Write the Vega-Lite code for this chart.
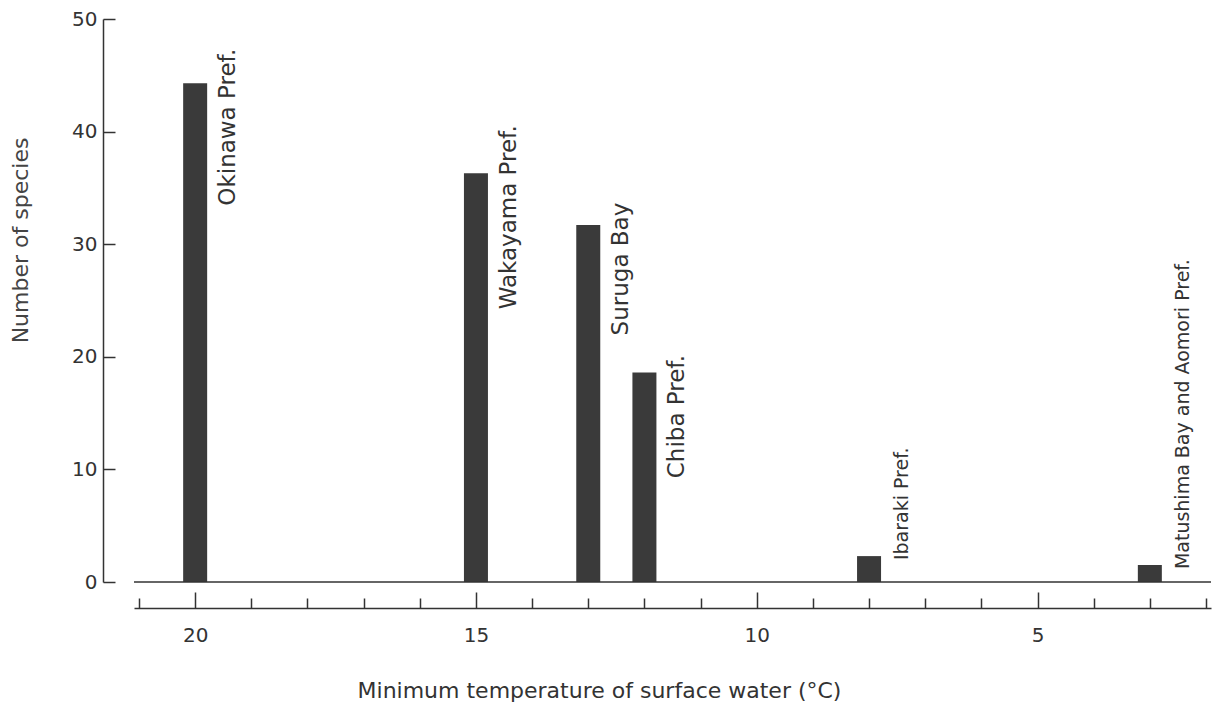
{
  "$schema": "https://vega.github.io/schema/vega-lite/v6.json",
  "width": 1077,
  "height": 563,
  "autosize": {"type": "none"},
  "padding": {"left": 134, "top": 19, "right": 3, "bottom": 131},
  "background": "white",
  "config": {"view": {"stroke": null}, "font": "DejaVu Sans"},
  "data": {
    "values": [
      {"site": "Okinawa Pref.", "temp": 20, "species": 44.3},
      {"site": "Wakayama Pref.", "temp": 15, "species": 36.3},
      {"site": "Suruga Bay", "temp": 13, "species": 31.7},
      {"site": "Chiba Pref.", "temp": 12, "species": 18.6},
      {"site": "Ibaraki Pref.", "temp": 8, "species": 2.3},
      {"site": "Matushima Bay and Aomori Pref.", "temp": 3, "species": 1.5}
    ]
  },
  "layer": [
    {
      "mark": {"type": "bar", "orient": "vertical", "size": 24, "color": "#3a3a3a"},
      "encoding": {
        "x": {
          "field": "temp",
          "type": "quantitative",
          "scale": {"domain": [2, 21], "reverse": true, "nice": false, "zero": false},
          "axis": {
            "title": "Minimum temperature of surface water (°C)",
            "values": [2, 3, 4, 5, 6, 7, 8, 9, 10, 11, 12, 13, 14, 15, 16, 17, 18, 19, 20, 21],
            "offset": 26,
            "grid": false,
            "tickSize": {"condition": {"test": "datum.value % 5 === 0", "value": -16}, "value": -10},
            "labelExpr": "datum.value % 5 === 0 ? datum.label : ''",
            "labelFontSize": 20,
            "labelPadding": 33,
            "labelColor": "#333",
            "labelFlush": false,
            "labelOverlap": false,
            "domainColor": "#333",
            "domainWidth": 1.5,
            "tickColor": "#333",
            "tickWidth": 1.5,
            "titleFontSize": 22,
            "titleFontWeight": "normal",
            "titleColor": "#333",
            "titleX": 465,
            "titleY": 82,
            "titleBaseline": "middle",
            "titleAlign": "center"
          }
        },
        "y": {
          "field": "species",
          "type": "quantitative",
          "scale": {"domain": [0, 50], "nice": false},
          "axis": {
            "title": "Number of species",
            "values": [0, 10, 20, 30, 40, 50],
            "offset": 31,
            "grid": false,
            "tickSize": -12,
            "labelPadding": 18,
            "labelFontSize": 20,
            "labelColor": "#333",
            "domainColor": "#333",
            "domainWidth": 1.5,
            "tickColor": "#333",
            "tickWidth": 1.5,
            "titleFontSize": 22,
            "titleFontWeight": "normal",
            "titleColor": "#444",
            "titleX": -83,
            "titleY": 221,
            "titleAngle": 270,
            "titleBaseline": "middle",
            "titleAlign": "center"
          }
        }
      }
    },
    {
      "data": {"values": [{"zero": 0}]},
      "mark": {"type": "rule", "color": "#333", "strokeWidth": 1.5},
      "encoding": {"y": {"field": "zero", "type": "quantitative"}}
    },
    {
      "transform": [{"filter": "datum.species > 10"}],
      "mark": {"type": "text", "angle": 270, "align": "center", "baseline": "middle", "xOffset": 33, "yOffset": 44, "fontSize": 23, "font": "DejaVu Sans", "color": "#333"},
      "encoding": {
        "x": {"field": "temp", "type": "quantitative"},
        "y": {"field": "species", "type": "quantitative"},
        "text": {"field": "site"}
      }
    },
    {
      "transform": [{"filter": "datum.species <= 10"}],
      "mark": {"type": "text", "angle": 270, "align": "left", "baseline": "middle", "xOffset": 33, "yOffset": 4, "fontSize": 19, "font": "DejaVu Sans", "color": "#333"},
      "encoding": {
        "x": {"field": "temp", "type": "quantitative"},
        "y": {"field": "species", "type": "quantitative"},
        "text": {"field": "site"}
      }
    }
  ]
}
